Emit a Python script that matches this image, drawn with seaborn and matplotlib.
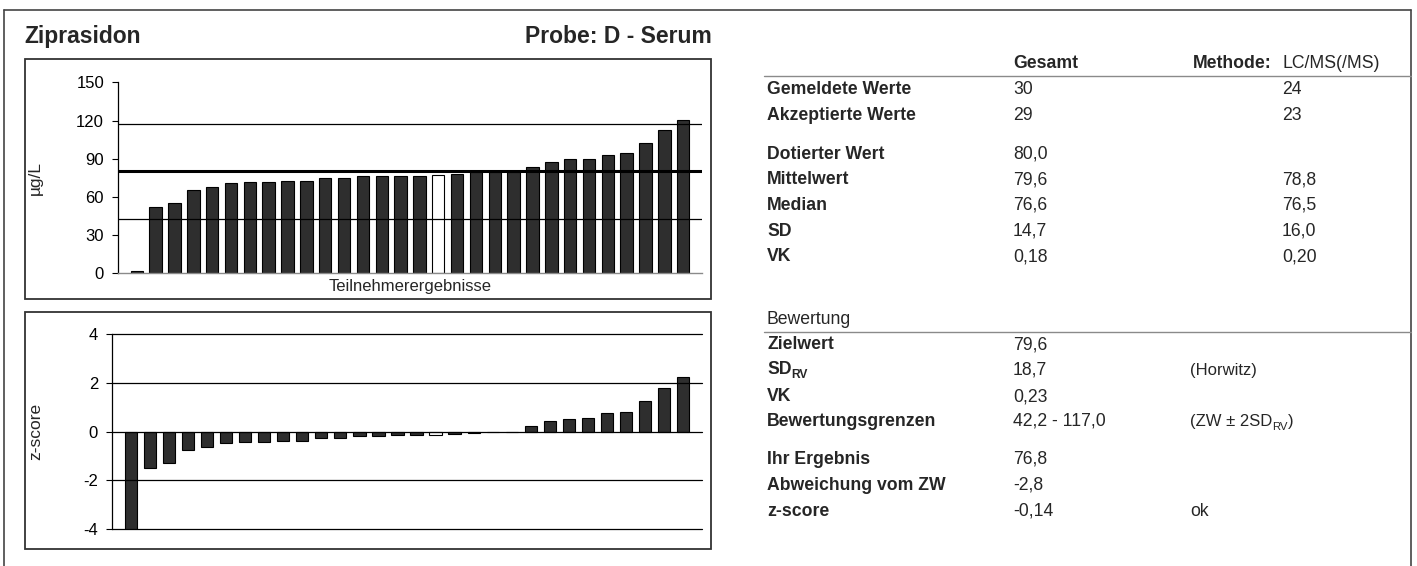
import matplotlib
matplotlib.use("Agg")
import pandas as pd
import seaborn as sns
from matplotlib import pyplot as plt
from matplotlib.lines import Line2D
from matplotlib.patches import Rectangle

# participant results (sorted), own result is the white bar
results = [1.3, 51.6, 55.3, 65.5, 67.9, 70.5, 71.3, 71.3, 72.1, 72.6,
           74.7, 74.7, 76.0, 76.2, 76.5, 76.6, 76.8, 77.9, 79.7, 79.7,
           79.6, 83.4, 87.6, 89.4, 89.9, 93.3, 94.6, 102.5, 112.5, 120.6]
z_scores = [-4.19, -1.48, -1.30, -0.77, -0.63, -0.48, -0.42, -0.42, -0.40, -0.37,
            -0.26, -0.26, -0.19, -0.18, -0.14, -0.14, -0.14, -0.09, -0.05, -0.04,
            0.0, 0.22, 0.44, 0.53, 0.57, 0.77, 0.82, 1.24, 1.78, 2.23]
own_result = 16
limits = [42.2, 117.0]
assigned_value = 80.0
y_ticks = [0, 30, 60, 90, 120, 150]
z_ticks = [-4, -2, 0, 2, 4]

stats_rows = [
    ("Gemeldete Werte", "30", "24"),
    ("Akzeptierte Werte", "29", "23"),
    ("Dotierter Wert", "80,0", ""),
    ("Mittelwert", "79,6", "78,8"),
    ("Median", "76,6", "76,5"),
    ("SD", "14,7", "16,0"),
    ("VK", "0,18", "0,20"),
]
eval_rows = [
    ("Zielwert", "79,6", ""),
    ("SD|RV", "18,7", "(Horwitz)"),
    ("VK", "0,23", ""),
    ("Bewertungsgrenzen", "42,2 - 117,0", "(ZW ± 2SD|RV|)"),
    ("Ihr Ergebnis", "76,8", ""),
    ("Abweichung vom ZW", "-2,8", ""),
    ("z-score", "-0,14", "ok"),
]

W, H = 1417, 566
DARK = "#2e2e2e"
FONT = ["Liberation Sans", "DejaVu Sans"]

sns.set_theme(style="white")
plt.rcParams["font.family"] = FONT
plt.rcParams["axes.unicode_minus"] = False

fig = plt.figure(figsize=(W / 100, H / 100), dpi=100)
fig.patch.set_facecolor("white")


def fx(x):
    return x / W


def fy(y):
    return 1 - y / H


df = pd.DataFrame({
    "idx": range(len(results)),
    "value": results,
    "z": z_scores,
    "own": [i == own_result for i in range(len(results))],
})
pal = {False: DARK, True: "white"}

# --- top chart: results ---
ax1 = fig.add_axes([fx(118), fy(273), (702 - 118) / W, (273 - 82.5) / H])
sns.barplot(data=df, x="idx", y="value", hue="own", palette=pal, dodge=False,
            width=0.66, edgecolor="black", linewidth=0.8, legend=False, ax=ax1)
ax1.set_xlim(-1, 30)
ax1.set_ylim(0, 150)
ax1.set_yticks(y_ticks)
ax1.set_xticks([])
for v in limits:
    ax1.axhline(v, color="black", lw=0.9)
ax1.axhline(assigned_value, color="black", lw=2.2)
ax1.set_ylabel("µg/L", fontsize=12.5)
ax1.yaxis.set_label_coords(-0.128, 0.5)
ax1.set_xlabel("Teilnehmerergebnisse", fontsize=12)
ax1.xaxis.set_label_coords(0.5, -(287 - 273) / 190.5)
ax1.xaxis.label.set_va("center")

# --- bottom chart: z-scores ---
ax2 = fig.add_axes([fx(112), fy(529), (702 - 112) / W, (529 - 334) / H])
sns.barplot(data=df, x="idx", y="z", hue="own", palette=pal, dodge=False,
            width=0.64, edgecolor="black", linewidth=0.8, legend=False, ax=ax2)
ax2.set_xlim(-1, 30)
ax2.set_ylim(-4, 4)
ax2.set_yticks(z_ticks)
ax2.set_xticks([])
for v in z_ticks:
    ax2.axhline(v, color="black", lw=0.9, clip_on=False)
ax2.set_xlabel("")
ax2.set_ylabel("z-score", fontsize=12.5)
ax2.yaxis.set_label_coords(-0.117, 0.5)

for ax in (ax1, ax2):
    sns.despine(ax=ax, top=True, right=True)
    ax.spines["left"].set_color("black")
    ax.spines["left"].set_linewidth(0.9)
    ax.tick_params(axis="y", direction="out", length=4, width=0.8, pad=6,
                   labelsize=12, left=True, colors="black")
    ax.set_facecolor("white")
ax1.spines["bottom"].set_color("#8a8a8a")
ax1.spines["bottom"].set_linewidth(1.0)
ax2.spines["bottom"].set_visible(False)

# --- frames ---
for top, bottom in [(58.5, 299), (312, 549)]:
    fig.add_artist(Rectangle((fx(25), fy(bottom)), (711 - 25) / W, (bottom - top) / H,
                             transform=fig.transFigure, fill=False, ec="#333333", lw=1.3))
for xs, ys in [([4, 4], [10, 566]), ([4, 1411], [10, 10]), ([1411, 1411], [10, 566])]:
    fig.add_artist(Line2D([fx(x) for x in xs], [fy(y) for y in ys],
                          transform=fig.transFigure, color="#444444", lw=1.2))
for y in [76, 331.5]:
    fig.add_artist(Line2D([fx(764), fx(1411)], [fy(y), fy(y)],
                          transform=fig.transFigure, color="#8a8a8a", lw=1.0))

# --- titles ---
fig.text(fx(24), fy(43), "Ziprasidon", fontsize=16.5, fontweight="bold", va="baseline")
fig.text(fx(712), fy(43), "Probe: D - Serum", fontsize=16.5, fontweight="bold",
         va="baseline", ha="right")

renderer = fig.canvas.get_renderer()


def put(x, y, s, size=12.7, weight="normal", **kw):
    # "a|b|c": b is drawn as subscript
    parts = s.split("|")
    for i, p in enumerate(parts):
        if not p:
            continue
        sub = i % 2 == 1
        t = fig.text(fx(x), fy(y + (5 if sub else 0)), p,
                     fontsize=size * (0.68 if sub else 1), fontweight=weight,
                     va="center", **kw)
        x += t.get_window_extent(renderer=renderer).width


LAB_X, VAL_X, M_X = 767, 1013, 1282

put(VAL_X, 64, "Gesamt", weight="bold")
fig.text(fx(1272), fy(64), "Methode:", fontsize=12.7,
         fontweight="bold", va="center", ha="right")
put(M_X, 64, "LC/MS(/MS)")

stats_y = [90, 116, 154.5, 180, 205.5, 231, 256.5]
for (lab, tot, meth), y in zip(stats_rows, stats_y):
    put(LAB_X, y, lab, weight="bold")
    put(VAL_X, y, tot)
    put(M_X, y, meth)

put(LAB_X, 319, "Bewertung")
eval_y = [344.5, 370, 396.5, 421.5, 459.5, 485, 511]
for (lab, val, note), y in zip(eval_rows, eval_y):
    put(LAB_X, y, lab, weight="bold")
    put(VAL_X, y, val)
    put(1190, y, note, size=12.7 if note == "ok" else 12)

fig.savefig("out.png", dpi=100, facecolor="white")
